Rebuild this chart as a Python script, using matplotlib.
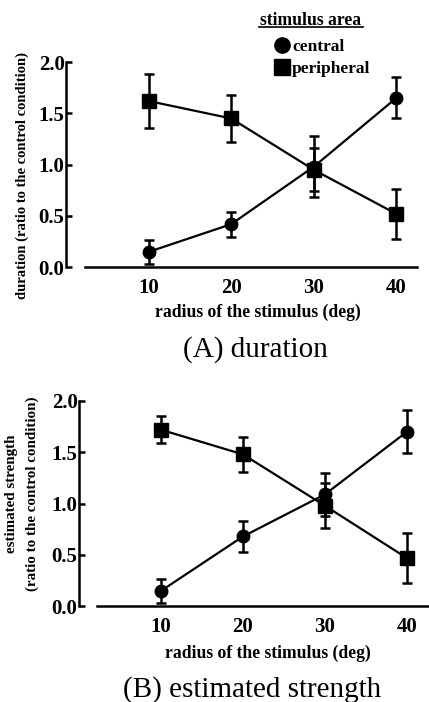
import matplotlib
matplotlib.use("Agg")
import matplotlib.pyplot as plt
from matplotlib.lines import Line2D

plt.rcParams['font.family'] = ['Liberation Serif', 'DejaVu Serif']

radius = [10, 20, 30, 40]

# (A) duration
dur_central = [0.15, 0.42, 0.98, 1.65]
dur_central_err = [0.12, 0.12, 0.30, 0.20]
dur_periph = [1.62, 1.45, 0.95, 0.52]
dur_periph_err = [0.26, 0.23, 0.21, 0.24]

# (B) estimated strength
str_central = [0.15, 0.68, 1.09, 1.70]
str_central_err = [0.12, 0.15, 0.21, 0.21]
str_periph = [1.72, 1.48, 0.98, 0.47]
str_periph_err = [0.13, 0.17, 0.22, 0.24]

W, H = 429, 702
fig = plt.figure(figsize=(W / 100, H / 100), dpi=100)


def panel(rect, xmax, xstart, central, c_err, periph, p_err,
          ylabel, ylab_size, ylab_xy, xlab_xy, title, title_xy):
    ax = fig.add_axes(rect)
    ax.errorbar(radius, central, yerr=c_err, color='black', lw=1.6, marker='o', ms=9,
                capsize=3.5, elinewidth=1.8, capthick=1.8, clip_on=False, zorder=3)
    ax.errorbar(radius, periph, yerr=p_err, color='black', lw=1.6, marker='s', ms=9.5,
                capsize=3.5, elinewidth=1.8, capthick=1.8, clip_on=False, zorder=3)
    ax.set_xlim(0, xmax)
    ax.set_ylim(0, 2.0)
    ax.set_xticks(radius)
    ax.set_yticks([0, 0.5, 1.0, 1.5, 2.0])
    ax.set_yticklabels(['0.0', '0.5', '1.0', '1.5', '2.0'])
    for s in ['top', 'right']:
        ax.spines[s].set_visible(False)
    ax.spines['left'].set_linewidth(1.8)
    ax.spines['bottom'].set_linewidth(1.8)
    ax.spines['bottom'].set_bounds(xstart, xmax)
    ax.tick_params(axis='x', length=0, pad=8, labelsize=15)
    ax.tick_params(axis='y', direction='in', length=4, width=1.8, pad=1, labelsize=15)
    for lab in ax.get_xticklabels() + ax.get_yticklabels():
        lab.set_fontweight('bold')
    ax.set_ylabel(ylabel, fontsize=ylab_size, fontweight='bold', linespacing=1.8)
    ax.yaxis.set_label_coords(*ylab_xy)
    ax.yaxis.label.set_va('center')
    ax.set_xlabel('radius of the stimulus (deg)', fontsize=12.7, fontweight='bold')
    ax.xaxis.set_label_coords(*xlab_xy)
    ax.xaxis.label.set_va('center')
    fig.text(title_xy[0], title_xy[1], title, ha='center', va='center', fontsize=21)
    return ax


axA = panel([66 / W, 1 - 267.3 / H, 351 / W, 205.3 / H], 42.5, 2.3,
            dur_central, dur_central_err, dur_periph, dur_periph_err,
            'duration (ratio to the control condition)', 10.5,
            ((22 - 66) / 351, 0.445), (0.547, -0.218),
            '(A) duration', (255 / W, 1 - 350 / H))

axB = panel([79 / W, 1 - 606.3 / H, 350 / W, 205.3 / H], 42.7, 2.2,
            str_central, str_central_err, str_periph, str_periph_err,
            'estimated strength\n(ratio to the control condition)', 10.8,
            ((22 - 79) / 350, 0.55), (0.54, -0.227),
            '(B) estimated strength', (252.5 / W, 1 - 690 / H))

# legend
handles = [Line2D([], [], color='black', marker='o', ls='none', ms=11),
           Line2D([], [], color='black', marker='s', ls='none', ms=11)]
leg = fig.legend(handles, ['central', 'peripheral'], loc='upper left',
                 bbox_to_anchor=(266 / W, 1 - 30 / H), frameon=False,
                 handlelength=0.8, handletextpad=0.2, borderpad=0,
                 labelspacing=0.35, prop={'size': 12.5, 'weight': 'bold'})
fig.text(311 / W, 1 - 25 / H, 'stimulus area', ha='center', va='baseline',
         fontsize=12.7, fontweight='bold')
fig.add_artist(Line2D([259 / W, 363 / W], [1 - 27 / H, 1 - 27 / H], color='black', lw=1.2))

fig.savefig('out.png', dpi=100)
